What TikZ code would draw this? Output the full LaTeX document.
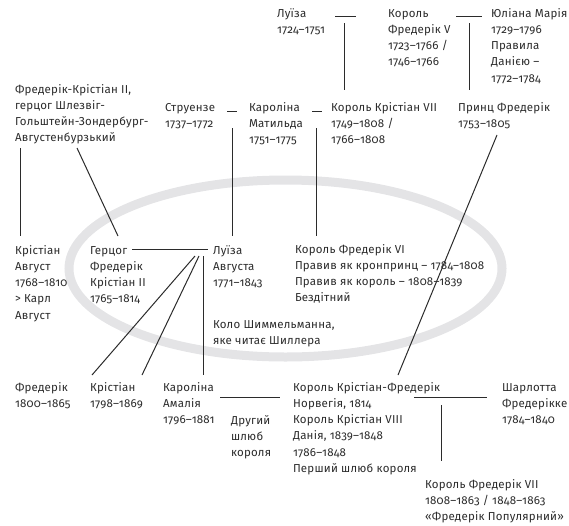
\documentclass[tikz,border=0pt]{standalone}
\usepackage{fontspec}
\setmainfont{Fira Sans}[Numbers=OldStyle, LetterSpace=2]
\definecolor{ink}{HTML}{2B2B2B}
\definecolor{ringgray}{HTML}{E4E4E6}
\newcommand\lines[1]{\begin{tabular}[t]{@{}l@{}}#1\end{tabular}}
\tikzset{
  person/.style={anchor=base west, inner sep=0pt, outer sep=0pt, text=ink,
    font=\fontsize{11.5}{16.3}\selectfont},
  link/.style={draw=ink, line width=1pt},
  ring/.style={draw=ringgray, line width=9pt}
}
\begin{document}
\begin{tikzpicture}[x=1pt, y=-1pt]
\useasboundingbox (0,0) rectangle (569,525);

% the Schimmelmann circle
\draw[ring] (285.5,268.5) ellipse [x radius=216.5, y radius=88.5];

% people
\node[person] (luiza)   at (277,17)  {\lines{Луїза\\1724–1751}};
\node[person] (fredV)   at (388,17)  {\lines{Король\\Фредерік V\\1723–1766 /\\1746–1766}};
\node[person] (juliana) at (491,17)  {\lines{Юліана Марія\\1729–1796\\Правила\\Данією –\\1772–1784}};

\node[person] (fchII)   at (15,93)   {\lines{Фредерік-Крістіан II,\\герцог Шлезвіг-\\Гольштейн-Зондербург-\\Августенбурзький}};
\node[person] (struen)  at (165,111) {\lines{Струензе\\1737–1772}};
\node[person] (matil)   at (249,111) {\lines{Каролiна\\Матильда\\1751–1775}};
\node[person] (chrVII)  at (331,111) {\lines{Король Крістіан VII\\1749–1808 /\\1766–1808}};
\node[person] (prince)  at (458,111) {\lines{Принц Фредерік\\1753–1805}};

\node[person] (chraug)  at (15,254)  {\lines{Крістіан\\Август\\1768–1810\\> Карл\\Август}};
\node[person] (duke)    at (90,254)  {\lines{Герцог\\Фредерік\\Крістіан II\\1765–1814}};
\node[person] (lauga)   at (213,254) {\lines{Луїза\\Августа\\1771–1843}};
\node[person] (circle)  at (213,328) {\lines{Коло Шиммельманна,\\яке читає Шиллера}};
\node[person] (fredVI)  at (295,253) {\lines{Король Фредерік VI\\Правив як кронпринц – 1784–1808\\Правив як король – 1808–1839\\Бездітний}};

\node[person] (fred1800) at (15,391)  {\lines{Фредерік\\1800–1865}};
\node[person] (chr1798)  at (90,391)  {\lines{Крістіан\\1798–1869}};
\node[person] (camal)    at (163,391) {\lines{Каролiна\\Амалія\\1796–1881}};
\node[person] (second)   at (231,424) {\lines{Другий\\шлюб\\короля}};
\node[person] (chrfr)    at (293,391) {\lines{Король Крістіан-Фредерік\\Норвегія, 1814\\Король Крістіан VIII\\Данія, 1839–1848\\1786–1848\\Перший шлюб короля}};
\node[person] (charl)    at (502,391) {\lines{Шарлотта\\Фредерікке\\1784–1840}};
\node[person] (fredVII)  at (425,488) {\lines{Король Фредерік VII\\1808–1863 / 1848–1863\\«Фредерік Популярний»}};

% connector end points
\coordinate (m1a) at (335,16);  \coordinate (m1b) at (356,16);
\coordinate (d1a) at (344,23);  \coordinate (d1b) at (344,90);
\coordinate (m2a) at (456,16);  \coordinate (m2b) at (482,16);
\coordinate (d2a) at (469,23);  \coordinate (d2b) at (469,90);
\coordinate (m3a) at (227,111); \coordinate (m3b) at (237,111);
\coordinate (d3a) at (232,128); \coordinate (d3b) at (232,236);
\coordinate (m4a) at (312,111); \coordinate (m4b) at (322,111);
\coordinate (d4a) at (316,128); \coordinate (d4b) at (316,236);
\coordinate (d5a) at (20,148);  \coordinate (d5b) at (20,236);
\coordinate (d6a) at (77,148);  \coordinate (d6b) at (118,236);
\coordinate (m7a) at (132,249); \coordinate (m7b) at (208,249);
\coordinate (c1a) at (195,256); \coordinate (c1b) at (92,375);
\coordinate (c2a) at (199,256); \coordinate (c2b) at (142,375);
\coordinate (c3a) at (203,256); \coordinate (c3b) at (203,375);
\coordinate (d9a) at (497,135); \coordinate (d9b) at (398,375);
\coordinate (m10a) at (220,397); \coordinate (m10b) at (280,397);
\coordinate (m11a) at (414,397); \coordinate (m11b) at (487,397);
\coordinate (d11a) at (441,405); \coordinate (d11b) at (441,461);

% marriages and descent
\draw[link] (m1a) -- (m1b);  \draw[link] (d1a) -- (d1b);
\draw[link] (m2a) -- (m2b);  \draw[link] (d2a) -- (d2b);
\draw[link] (m3a) -- (m3b);  \draw[link] (d3a) -- (d3b);
\draw[link] (m4a) -- (m4b);  \draw[link] (d4a) -- (d4b);
\draw[link] (d5a) -- (d5b);
\draw[link] (d6a) -- (d6b);
\draw[link] (m7a) -- (m7b);
\draw[link] (c1a) -- (c1b);
\draw[link] (c2a) -- (c2b);
\draw[link] (c3a) -- (c3b);
\draw[link] (d9a) -- (d9b);
\draw[link] (m10a) -- (m10b);
\draw[link] (m11a) -- (m11b); \draw[link] (d11a) -- (d11b);
\end{tikzpicture}
\end{document}
